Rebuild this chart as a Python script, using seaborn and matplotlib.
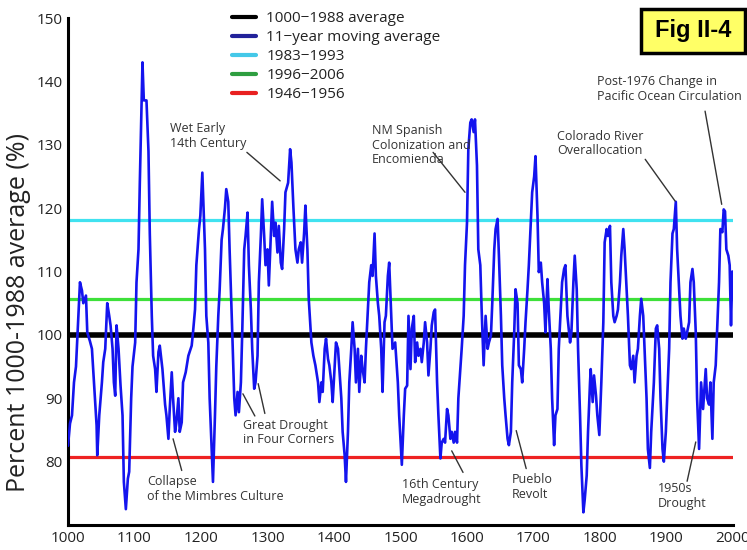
import matplotlib
matplotlib.use("Agg")
import matplotlib.pyplot as plt
import seaborn as sns
import pandas as pd
from matplotlib.lines import Line2D
from matplotlib.patches import Rectangle

# ---------------- data ----------------
years = [1000, 1003, 1006, 1009, 1012, 1014, 1018, 1021, 1023, 1027, 1029, 1033, 1036, 1039, 1043, 1044,
         1047, 1051, 1053, 1056, 1059, 1062, 1064, 1067, 1069, 1071, 1073, 1076, 1079, 1082, 1084, 1087,
         1090, 1092, 1095, 1097, 1101, 1103, 1106, 1108, 1112, 1114, 1118, 1121,
         1123, 1126, 1128, 1131, 1133, 1136, 1138, 1142, 1146, 1148, 1151, 1153, 1156, 1158, 1161, 1163,
         1166, 1168, 1171, 1173, 1177, 1181, 1186, 1188, 1191, 1193, 1197, 1199, 1202, 1206, 1208, 1211,
         1213, 1216, 1218, 1221, 1223, 1226, 1228, 1231, 1233, 1236, 1238, 1241, 1243, 1247,
         1250, 1252, 1255, 1257, 1260, 1262, 1265, 1267, 1270, 1272, 1275, 1277, 1280, 1282, 1285, 1287,
         1290, 1292, 1295, 1297, 1300, 1302, 1305, 1307, 1310, 1312, 1315, 1317, 1320, 1322, 1325, 1327,
         1331, 1334, 1336, 1339, 1342, 1345, 1347, 1350, 1352, 1355, 1357, 1360, 1362, 1366, 1369, 1372,
         1376, 1378, 1381, 1383, 1386, 1388, 1391, 1393, 1396, 1398, 1401, 1403, 1406, 1408, 1411, 1413,
         1416, 1418, 1421, 1423, 1426, 1428, 1431, 1433, 1436, 1438, 1441, 1443, 1446, 1448, 1451, 1453,
         1456, 1458, 1461, 1463, 1466, 1468, 1471, 1473, 1476, 1478, 1481, 1483, 1486, 1488, 1492, 1496, 1498,
         1502, 1505, 1507, 1510, 1512, 1515, 1517, 1520, 1522, 1525, 1527, 1530, 1532, 1535, 1537, 1540,
         1542, 1545, 1547, 1550, 1552, 1555, 1557, 1560, 1562, 1565, 1567, 1570, 1572, 1575, 1577, 1580,
         1582, 1585, 1587, 1590, 1592, 1595, 1597, 1600, 1602, 1605, 1607, 1610, 1612, 1615, 1617, 1620,
         1622, 1625,
         1628, 1631, 1633, 1636, 1638, 1641, 1643, 1646, 1648, 1651, 1653, 1656, 1658, 1661, 1663, 1666,
         1668, 1671, 1673, 1676, 1678, 1681, 1683, 1686, 1688, 1691, 1693, 1696, 1698, 1701, 1703, 1706,
         1708, 1711, 1713, 1716, 1718, 1721, 1723, 1726, 1728, 1731, 1733, 1736, 1738, 1741, 1743, 1746,
         1748, 1751,
         1755, 1757, 1760, 1762, 1765, 1767, 1770, 1772, 1775, 1777, 1780, 1782, 1785, 1786, 1789, 1791,
         1794, 1796, 1799, 1802, 1805, 1807, 1810, 1812, 1815, 1817, 1820, 1822, 1825, 1827, 1830, 1832,
         1835, 1837, 1840, 1842, 1845, 1847, 1850, 1852, 1855, 1857, 1860, 1862, 1865, 1867, 1870, 1872,
         1875, 1877,
         1881, 1884, 1886, 1889, 1891, 1894, 1896, 1899, 1901, 1904, 1906, 1909, 1911, 1914, 1916, 1919,
         1921, 1924, 1926, 1929, 1931, 1934, 1936, 1939, 1941, 1944, 1946, 1949, 1950, 1952, 1955, 1959,
         1961, 1964, 1966, 1969, 1971, 1974, 1976, 1979, 1981, 1984, 1986, 1988, 1990, 1993, 1995, 1997,
         1999]

moving_avg = [82.5, 86, 87.3, 92.5, 95, 99.4, 108.3, 107, 105, 106.2, 100.4, 99, 97.8, 92.5, 85.7, 81,
              87.3, 92.5, 95.7, 97.8, 105, 103, 101.5, 97.8, 92.5, 90.4, 101.5, 97.8, 92, 87.3, 76.8, 72.5,
              77.3, 78.4, 90, 95, 98.8, 108.3, 113.5, 124, 143, 137, 137, 129,
              116, 103, 96.7, 94.6, 91, 97.3, 98.3, 94.6, 89, 87.3, 83.6, 88.3, 94.1, 90, 84.7, 86.2,
              90, 84.7, 86.2, 92.5, 94.1, 96.7, 98.3, 100.4, 104, 111, 116.7, 118.8, 125.6, 113.5, 103, 98.8,
              90, 82, 76.8, 87.3, 95, 103, 107, 115, 116.7, 120, 123, 121, 113.5, 100.4,
              90, 87.3, 91, 87.8, 92.5, 100.4, 113.5, 115.6, 119.3, 111, 104, 97.8, 91.5, 92.5, 96.7, 108.3,
              115.6, 121.4, 115.6, 111, 113.5, 107.8, 115.6, 121, 115.6, 117.7, 113, 117.2, 111.4, 110.4, 116.7, 122.5,
              124, 129.3, 127.2, 120, 113.5, 111.4, 113.5, 114.6, 111.4, 116, 120.4, 113.5, 105.7, 98.8, 96.7, 95.2,
              92.5, 89.4, 92.5, 91, 97.8, 99.4, 96.2, 95.2, 92.5, 89.4, 95.2, 98.8, 97.8, 94.6, 90, 84.7,
              81, 76.8, 84.7, 92.5, 97.8, 102, 97.8, 92.5, 97.8, 91, 96.7, 94.6, 92.5, 97.8, 104, 108.3,
              111, 109.3, 116, 109.3, 105, 103, 97.8, 91, 102, 103, 109.3, 111.4, 103, 97.8, 98.8, 92.5, 87.3,
              79.5, 87.3, 91.5, 92, 103, 94.6, 101, 103, 95.7, 98.8, 96.7, 97.8, 95.7, 98.8, 102, 98.8,
              93.6, 97.8, 101.5, 103.6, 104, 92.5, 87.3, 80.5, 83, 83.6, 83, 88.3, 87.3, 83.6, 84.7, 83,
              84.7, 83, 90, 94.6, 97.8, 103, 111, 117.7, 129.3, 133.5, 134, 132, 134, 126.7, 113.5, 111,
              104, 95.2,
              103, 97.8, 98.8, 99.9, 105, 113.5, 116.7, 118.3, 112.5, 103, 95.2, 90, 87.3, 83.6, 82.6, 84.7,
              92.5, 100.4, 107.2, 105, 95.2, 94.6, 92.5, 97.8, 102, 107.2, 111, 117.7, 122.5, 125, 128.2, 118.8,
              109.9, 111.4, 108.3, 105, 100.4, 108.8, 104, 97.8, 90, 82.6, 87.3, 88.3, 97.8, 104, 108.3, 110.4,
              111, 103,
              98.8, 100.4, 108.3, 112.5, 107.2, 97.8, 87.3, 79.4, 72, 74, 77.8, 84.7, 92.5, 94.6, 89.4, 93.6,
              90.4, 87.3, 84.2, 92.5, 102, 114.6, 116.7, 115.6, 117.2, 108.3, 103, 102, 103, 104, 108.3, 112.5,
              116.7, 113.5, 107.2, 103, 95.2, 94.6, 96.7, 92.5, 96.7, 97.8, 103, 105.7, 103, 97.8, 90, 82,
              79, 84.7,
              92.5, 101, 101.5, 97.8, 90, 82, 80, 84.7, 90, 97.8, 108.3, 116, 116.7, 121, 113.5, 107.2,
              103, 99.4, 101, 99.4, 100.4, 102, 108.3, 110.4, 108.3, 100.4, 90, 82, 85.7, 92.5, 88.3, 94.6,
              90, 89, 92.5, 83.6, 92.5, 95.2, 100.4, 108.3, 116.7, 116.2, 119.8, 119.5, 113.5, 112.5, 111, 101.5,
              110]

avg_1000_1988 = 100.0
avg_1983_1993 = 118.2
avg_1996_2006 = 105.6
avg_1946_1956 = 80.7

legend_labels = ["1000\u22121988 average", "11\u2212year moving average",
                 "1983\u22121993", "1996\u22122006", "1946\u22121956"]
x_ticks = list(range(1000, 2001, 100))
y_ticks = list(range(80, 151, 10))

# annotations: text, text position (year, value), leader lines [(x0,y0,x1,y1), ...]
annotations = [
    ("Wet Early\n14th Century", (1153, 131.4), [(1269, 128.8, 1319, 124.3)]),
    ("NM Spanish\nColonization and\nEncomienda", (1457, 129.9), [(1549, 128.8, 1597, 122.5)]),
    ("Colorado River\nOverallocation", (1735, 130.2), [(1868, 127.7, 1913, 121.1)]),
    ("Post-1976 Change in\nPacific Ocean Circulation", (1795, 138.8), [(1958, 135.3, 1983, 120.6)]),
    ("Great Drought\nin Four Corners", (1263, 84.6), [(1263, 90.7, 1281, 87.2), (1286, 92.3, 1296, 87.6)]),
    ("Collapse\nof the Mimbres Culture", (1119, 75.7), [(1158, 83.6, 1171, 78.6)]),
    ("16th Century\nMegadrought", (1502, 75.2), [(1577, 81.7, 1594, 78.3)]),
    ("Pueblo\nRevolt", (1668, 76.0), [(1674, 84.9, 1689, 78.9)]),
    ("1950s\nDrought", (1887, 74.6), [(1944, 83.1, 1931, 76.9)]),
]

# ---------------- style ----------------
sns.set_style("white")
plt.rcParams["font.family"] = ["Open Sans", "DejaVu Sans"]

fig = plt.figure(figsize=(7.47, 5.5), dpi=100)
ax = fig.add_axes([68 / 747, 25 / 550, 665 / 747, 507 / 550])

df = pd.DataFrame({"year": years, "pct": moving_avg})

ax.hlines(avg_1983_1993, 1000, 2000, color="#40E2F0", lw=2.3, zorder=2)
ax.hlines(avg_1996_2006, 1000, 2000, color="#3EE03A", lw=2.3, zorder=2)
ax.hlines(avg_1946_1956, 1000, 2000, color="#EE2222", lw=2.3, zorder=2)
ax.hlines(avg_1000_1988, 1000, 2000, color="black", lw=4.0, zorder=2)

sns.lineplot(data=df, x="year", y="pct", ax=ax, color="#1414EE", lw=1.9, zorder=3)

ax.set_xlim(1000, 2000)
ax.set_ylim(70, 150)
ax.set_xticks(x_ticks)
ax.set_yticks(y_ticks)
ax.set_xlabel("")
ax.set_ylabel("Percent 1000-1988 average (%)", fontsize=18, color="#222222")
ax.yaxis.set_label_coords(-0.056, 0.42)

for s in ["top", "right"]:
    ax.spines[s].set_visible(False)
for s in ["left", "bottom"]:
    ax.spines[s].set_linewidth(2.2)
    ax.spines[s].set_color("black")
ax.tick_params(direction="in", length=4, width=2, labelsize=11, pad=4, colors="black",
               labelcolor="#222222")

# annotations
for text, (tx, ty), lines in annotations:
    ax.text(tx, ty, text, fontsize=9, color="#333333", ha="left", va="center",
            linespacing=1.15, zorder=4)
    for (x0, y0, x1, y1) in lines:
        ax.annotate("", xy=(x1, y1), xytext=(x0, y0),
                    arrowprops=dict(arrowstyle="-", color="#333333", lw=1.0,
                                    shrinkA=0, shrinkB=0), zorder=4)

# legend
handles = [Line2D([0], [0], color="black", lw=3),
           Line2D([0], [0], color="#22229A", lw=3),
           Line2D([0], [0], color="#44C8E8", lw=3),
           Line2D([0], [0], color="#2E9E40", lw=3),
           Line2D([0], [0], color="#E82020", lw=3)]
fig.legend(handles, legend_labels, loc="upper left", bbox_to_anchor=(232 / 747, 1 - 11 / 550),
           frameon=False, fontsize=11, handlelength=1.6, handletextpad=0.65,
           labelspacing=0.27, borderpad=0, borderaxespad=0, labelcolor="#222222")

# Fig II-4 box
fig.patches.append(Rectangle((641 / 747, 1 - 53 / 550), 104 / 747, 44 / 550,
                             transform=fig.transFigure, facecolor="#FFFF66",
                             edgecolor="black", lw=2.5, zorder=5))
fig.text(693 / 747, 1 - 31 / 550, "Fig II-4", ha="center", va="center", fontsize=17,
         fontweight="bold", family=["Liberation Sans", "DejaVu Sans"], color="black", zorder=6)

fig.savefig("out.png", dpi=100)
